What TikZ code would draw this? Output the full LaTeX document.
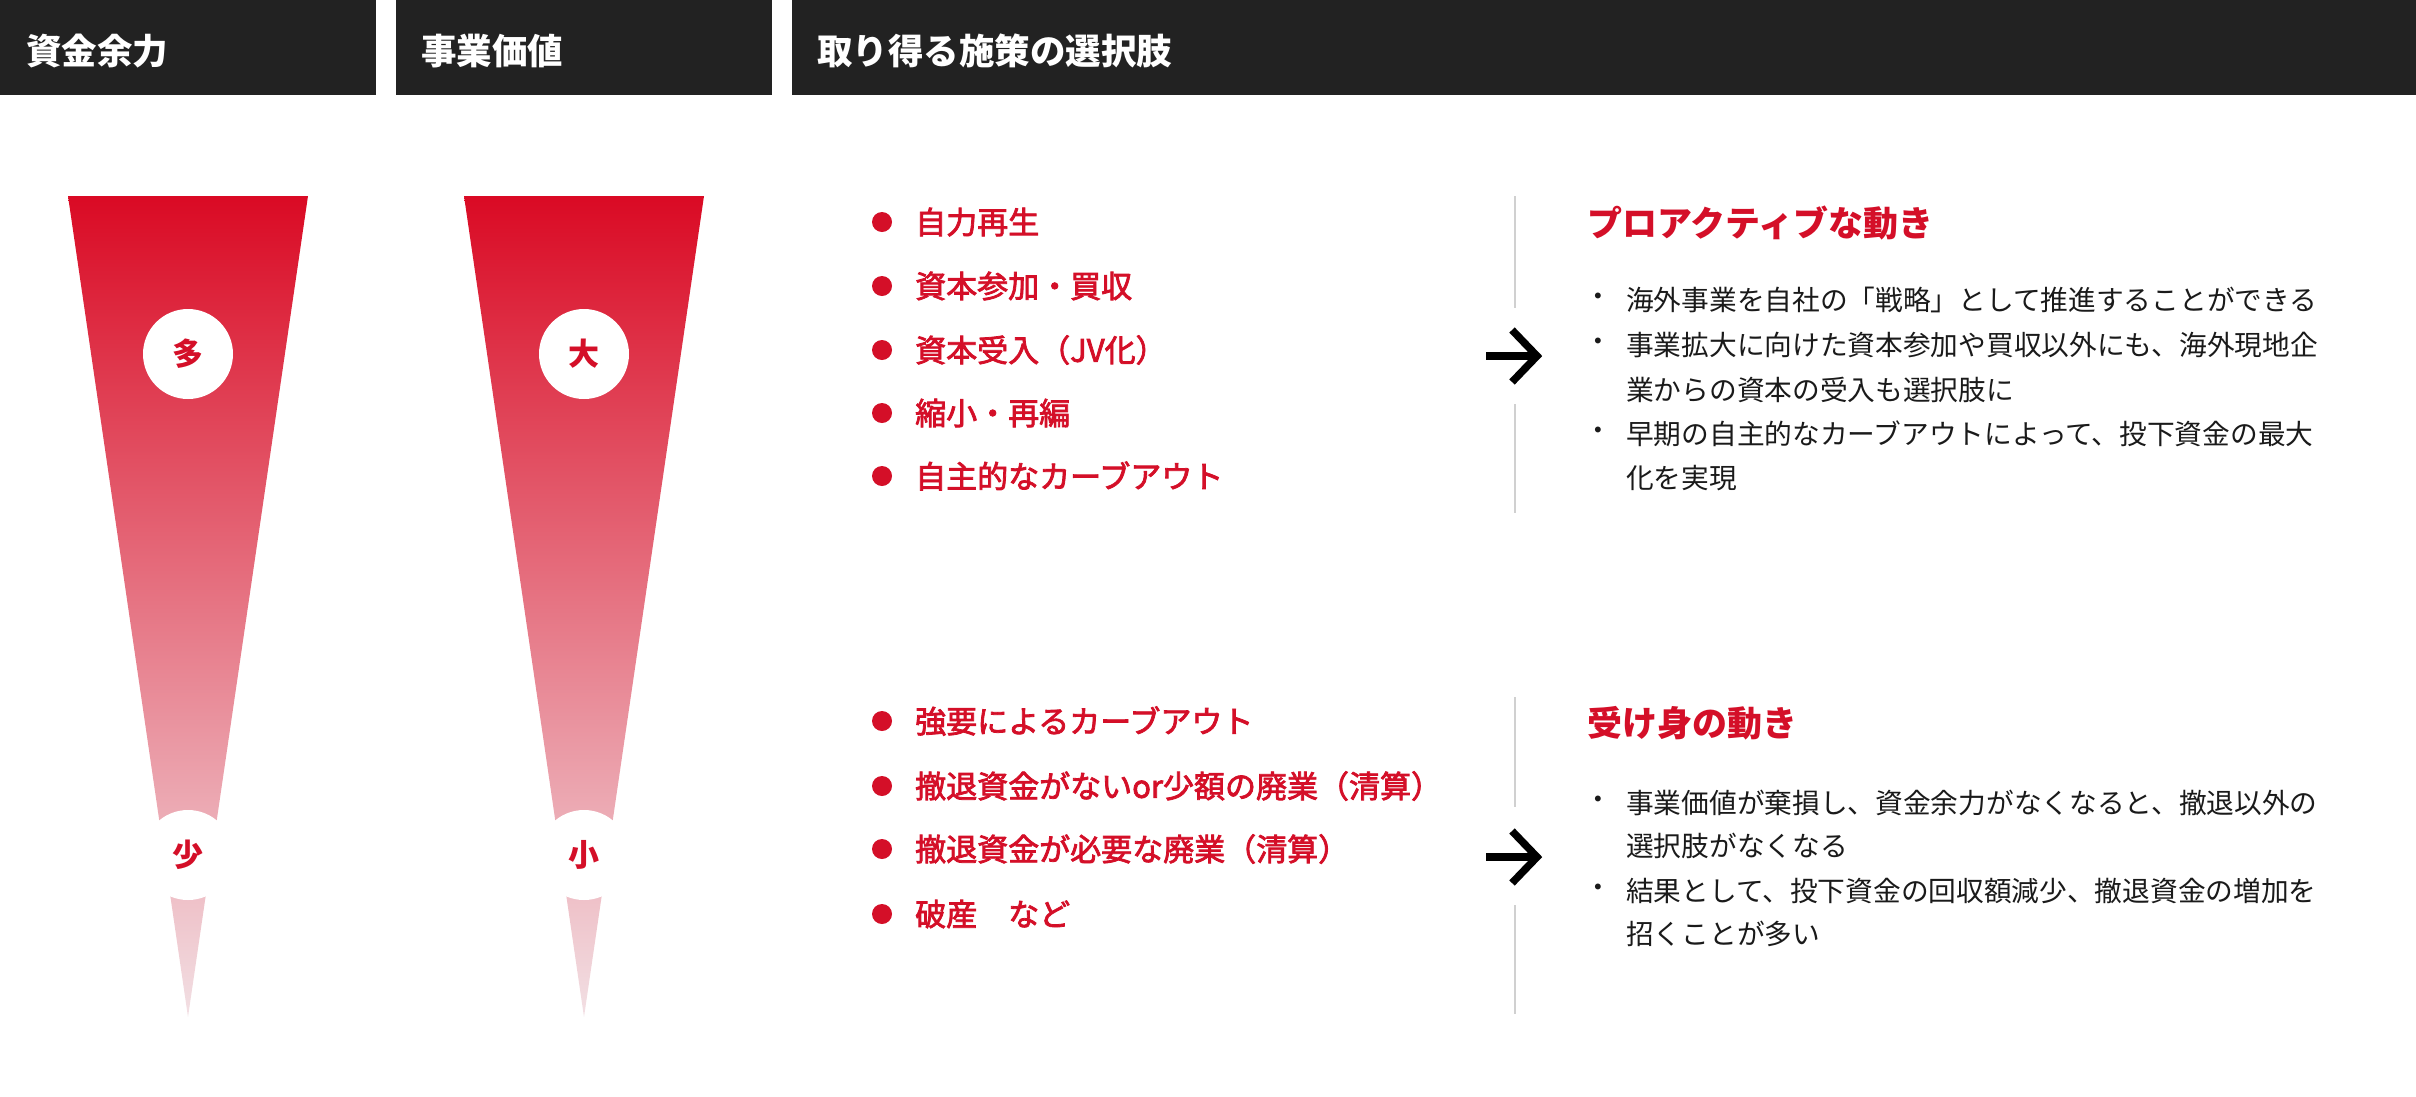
\documentclass[tikz,border=0pt]{standalone}
\usepackage{fontspec}
\setmainfont{Noto Sans CJK JP}
\newfontfamily\jpmedium{Noto Sans CJK JP}[FakeBold=2.5]
\definecolor{mainred}{RGB}{212,15,40}
\definecolor{topred}{RGB}{218,10,36}
\definecolor{midred}{RGB}{229,100,115}
\definecolor{palered}{RGB}{242,224,228}
\definecolor{hdrgray}{RGB}{34,34,34}
\definecolor{sepgray}{RGB}{208,208,208}
\definecolor{bodytext}{RGB}{26,26,26}
\begin{document}
\begin{tikzpicture}[x=1pt,y=-1pt,
  hdrbar/.style={fill=hdrgray, draw=none},
  hdrtext/.style={anchor=west, inner sep=0, text=white, font=\fontsize{35.5}{40}\selectfont\bfseries},
  wedge/.style={top color=topred, middle color=midred, bottom color=palered, draw=none},
  levelmark/.style={circle, fill=white, minimum size=90pt, inner sep=0, text=mainred, font=\fontsize{31}{36}\selectfont\bfseries},
  reddot/.style={circle, fill=mainred, minimum size=20pt, inner sep=0},
  opttext/.style={anchor=west, inner sep=0, text=mainred, font=\jpmedium\fontsize{31}{36}\selectfont},
  movetitle/.style={anchor=west, inner sep=0, text=mainred, font=\fontsize{35}{40}\selectfont\bfseries},
  dotmark/.style={anchor=west, inner sep=0, text=bodytext, font=\fontsize{27.7}{32}\selectfont},
  bodyline/.style={anchor=west, inner sep=0, text=bodytext, font=\fontsize{27.7}{32}\selectfont},
  sepline/.style={draw=sepgray, line width=2pt},
  arrowline/.style={draw=black, line width=7.5pt, miter limit=10}
]
\useasboundingbox (0,0) rectangle (2416,1096);

% header bars
\fill[hdrbar] (0,0) rectangle (376,95);
\fill[hdrbar] (396,0) rectangle (772,95);
\fill[hdrbar] (792,0) rectangle (2416,95);
\node[hdrtext] (h1) at (26,51) {資金余力};
\node[hdrtext] (h2) at (421,51) {事業価値};
\node[hdrtext] (h3) at (817,51) {取り得る施策の選択肢};

% wedges
\shade[wedge] (68,196) -- (308,196) -- (188,1017) -- cycle;
\shade[wedge] (464,196) -- (704,196) -- (584,1017) -- cycle;
\node[levelmark] (m1) at (188,354) {多};
\node[levelmark] (m2) at (188,855) {少};
\node[levelmark] (m3) at (584,354) {大};
\node[levelmark] (m4) at (584,855) {小};

% upper options
\node[reddot] (d1) at (882,222) {};
\node[opttext] (o1) at (915,222) {自力再生};
\node[reddot] (d2) at (882,286) {};
\node[opttext] (o2) at (915,286) {資本参加・買収};
\node[reddot] (d3) at (882,350) {};
\node[opttext] (o3) at (915,350) {資本受入（JV化）};
\node[reddot] (d4) at (882,413) {};
\node[opttext] (o4) at (915,413) {縮小・再編};
\node[reddot] (d5) at (882,476) {};
\node[opttext] (o5) at (915,476) {自主的なカーブアウト};

% lower options
\node[reddot] (d6) at (882,721) {};
\node[opttext] (o6) at (915,721) {強要によるカーブアウト};
\node[reddot] (d7) at (882,786) {};
\node[opttext] (o7) at (915,786) {撤退資金がないor少額の廃業（清算）};
\node[reddot] (d8) at (882,849) {};
\node[opttext] (o8) at (915,849) {撤退資金が必要な廃業（清算）};
\node[reddot] (d9) at (882,914) {};
\node[opttext] (o9) at (915,914) {破産　など};

% separators and arrows
\coordinate (s1a) at (1515,196); \coordinate (s1b) at (1515,308);
\coordinate (s1c) at (1515,404); \coordinate (s1d) at (1515,513);
\coordinate (s2a) at (1515,697); \coordinate (s2b) at (1515,807);
\coordinate (s2c) at (1515,905); \coordinate (s2d) at (1515,1014);
\draw[sepline] (s1a) -- (s1b);
\draw[sepline] (s1c) -- (s1d);
\draw[sepline] (s2a) -- (s2b);
\draw[sepline] (s2c) -- (s2d);

\coordinate (arr1) at (1514,356);
\coordinate (arr2) at (1514,857);
\foreach \a in {arr1,arr2}{
  \draw[arrowline] ([xshift=-28pt]\a) -- ([xshift=20pt]\a);
  \draw[arrowline] ([xshift=-2pt,yshift=26pt]\a) -- ([xshift=23pt]\a) -- ([xshift=-2pt,yshift=-26pt]\a);
}

% upper description
\node[movetitle] (t1) at (1587,223) {プロアクティブな動き};
\node[dotmark] (b1) at (1584,300) {・};
\node[bodyline] (l1) at (1626,300) {海外事業を自社の「戦略」として推進することができる};
\node[dotmark] (b2) at (1584,345) {・};
\node[bodyline] (l2) at (1626,345) {事業拡大に向けた資本参加や買収以外にも、海外現地企};
\node[bodyline] (l3) at (1626,390) {業からの資本の受入も選択肢に};
\node[dotmark] (b3) at (1584,434) {・};
\node[bodyline] (l4) at (1626,434) {早期の自主的なカーブアウトによって、投下資金の最大};
\node[bodyline] (l5) at (1626,478) {化を実現};

% lower description
\node[movetitle] (t2) at (1587,723) {受け身の動き};
\node[dotmark] (b4) at (1584,803) {・};
\node[bodyline] (l6) at (1626,803) {事業価値が棄損し、資金余力がなくなると、撤退以外の};
\node[bodyline] (l7) at (1626,846) {選択肢がなくなる};
\node[dotmark] (b5) at (1584,891) {・};
\node[bodyline] (l8) at (1626,891) {結果として、投下資金の回収額減少、撤退資金の増加を};
\node[bodyline] (l9) at (1626,934) {招くことが多い};
\end{tikzpicture}
\end{document}
